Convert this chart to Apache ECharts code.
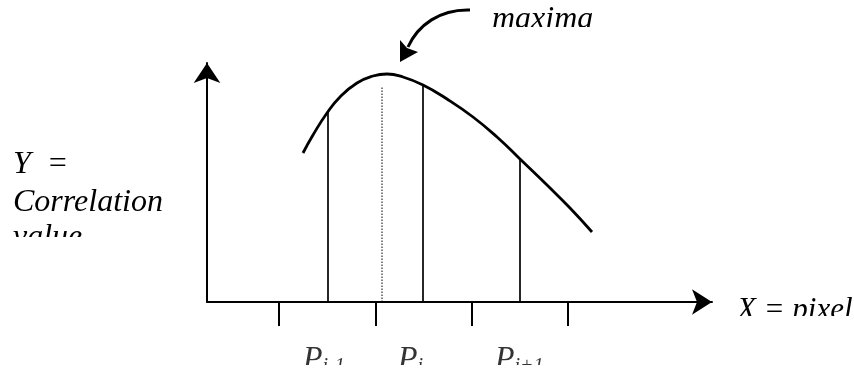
<!DOCTYPE html>
<html>
<head>
<meta charset="utf-8">
<script src="https://cdn.jsdelivr.net/npm/echarts@6/dist/echarts.min.js"></script>
<style>html,body{margin:0;padding:0;background:#fff}#c{width:854px;height:371px}</style>
</head>
<body>
<div id="c"></div>
<script>
// Correlation curve (x in pixel-like units from the Y axis, y = correlation value)
const curveX = [96, 106, 120, 133, 150, 166, 180, 196, 216, 240, 266, 290, 313, 340, 363, 385];
const curveY = [149, 167, 189, 205, 219, 226, 228, 225, 217, 203, 185, 165, 143, 117, 94, 70];
// Sample positions P(i-1), P(i), P(i+1) and the curve value there
const sampleX = [121, 216, 313];
const sampleY = [190, 217, 143];
const sampleLabels = ['{p|P}{s|i-1}', '{p|P}{s|i}', '{p|P}{s|i+1}'];
// True maximum (dotted line)
const maxX = [175];
const maxY = [216];
// Pixel tick positions along X
const tickX = [72, 169, 265, 361];

const X_MAX = 505, Y_MAX = 239;
const FONT = "'Liberation Serif', 'Times New Roman', serif";

const series = [];
series.push({
  type: 'line', smooth: 0.5, symbol: 'none',
  data: curveX.map((x, i) => [x, curveY[i]]),
  lineStyle: { color: '#000', width: 2.8 }, z: 5
});
sampleX.forEach((x, i) => {
  series.push({
    type: 'line', symbol: 'none',
    data: [[x, 0], [x, sampleY[i]]],
    lineStyle: { color: '#000', width: 1.7 }
  });
});
series.push({
  type: 'line', symbol: 'none',
  data: [[maxX[0], 0], [maxX[0], maxY[0]]],
  lineStyle: { color: '#000', width: 1, type: [1.5, 1.5] }
});
series.push({
  type: 'scatter', symbolSize: 1, itemStyle: { color: 'rgba(0,0,0,0)' },
  data: sampleX.map((x, i) => ({ value: [x, 0], label: { formatter: sampleLabels[i] } })),
  label: {
    show: true, position: 'bottom', align: 'left', distance: 40, offset: [-25, 0],
    rich: {
      p: { fontFamily: FONT, fontStyle: 'italic', fontSize: 32, color: '#000' },
      s: { fontFamily: FONT, fontStyle: 'italic', fontSize: 20, color: '#000', verticalAlign: 'bottom', padding: [14, 0, 0, 0] }
    }
  },
  silent: true
});

const chart = echarts.init(document.getElementById('c'), null, { renderer: 'canvas' });
chart.setOption({
  animation: false,
  backgroundColor: '#fff',
  grid: { left: 207, top: 63, width: X_MAX, height: Y_MAX, containLabel: false },
  xAxis: {
    type: 'value', min: 0, max: X_MAX,
    axisLine: { show: true, onZero: false, symbol: ['none', 'arrow'], symbolSize: [19, 20], lineStyle: { color: '#000', width: 2 } },
    axisTick: { show: true, customValues: tickX, length: 24, inside: false, lineStyle: { color: '#000', width: 2 } },
    axisLabel: { show: false },
    splitLine: { show: false }
  },
  yAxis: {
    type: 'value', min: 0, max: Y_MAX,
    axisLine: { show: true, onZero: false, symbol: ['none', 'arrow'], symbolSize: [20, 20], lineStyle: { color: '#000', width: 2 } },
    axisTick: { show: false },
    axisLabel: { show: false },
    splitLine: { show: false }
  },
  series: series,
  graphic: [
    { type: 'text', left: 13, top: 149, style: { text: 'Y  =', font: "italic 32px " + FONT, fill: '#000' } },
    { type: 'text', left: 13, top: 187, style: { text: 'Correlation', font: "italic 32px " + FONT, fill: '#000' } },
    { type: 'text', left: 13, top: 222, style: { text: 'value', font: "italic 32px " + FONT, fill: '#000' } },
    { type: 'rect', shape: { x: 0, y: 237, width: 195, height: 60 }, style: { fill: '#fff' }, z: 100 },
    { type: 'text', left: 492, top: 4, style: { text: 'maxima', font: "italic 32px " + FONT, fill: '#000' } },
    { type: 'rect', shape: { x: 480, y: 27, width: 130, height: 20 }, style: { fill: '#fff' }, z: 100 },
    { type: 'text', left: 737, top: 295, style: { text: 'X = pixel', font: "italic 31px " + FONT, fill: '#000' } },
    { type: 'rect', shape: { x: 725, y: 316, width: 129, height: 30 }, style: { fill: '#fff' }, z: 100 },
    { type: 'rect', shape: { x: 290, y: 365, width: 280, height: 6 }, style: { fill: '#fff' }, z: 100 },
    { type: 'bezierCurve', shape: { x1: 470, y1: 10, cpx1: 440, cpy1: 9, cpx2: 418, cpy2: 25, x2: 408, y2: 47 }, style: { stroke: '#000', lineWidth: 3, fill: null } },
    { type: 'polygon', shape: { points: [[400, 62], [400, 40], [407, 48], [418, 52]] }, style: { fill: '#000' } }
  ]
});
</script>
</body>
</html>
